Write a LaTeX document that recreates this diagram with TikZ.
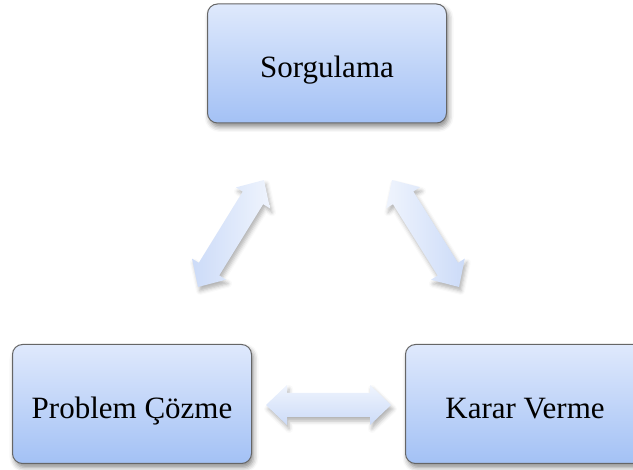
\documentclass[tikz,border=0pt]{standalone}
\usepackage{fontspec}
\setmainfont{Liberation Serif}
\usetikzlibrary{calc,shadows.blur}
\definecolor{boxtop}{HTML}{DFE9FC}
\definecolor{boxbot}{HTML}{A3C1F5}
\definecolor{boxline}{HTML}{666666}
\definecolor{arrlight}{HTML}{EFF4FD}
\definecolor{arrdark}{HTML}{CCDBF8}
\tikzset{
  stepbox/.style={rectangle, rounded corners=10pt, draw=boxline, line width=1pt,
    top color=boxtop, bottom color=boxbot, minimum width=239pt, minimum height=119pt,
    font=\fontsize{31}{36}\selectfont, text=black, text height=29pt, text depth=0pt,
    blur shadow={shadow xshift=2pt, shadow yshift=-4pt, shadow blur radius=5pt, shadow opacity=45}},
  fatarr/.style={draw=none,
    blur shadow={shadow xshift=2pt, shadow yshift=-4pt, shadow blur radius=4pt, shadow opacity=30}},
}
\newcommand\fatarrow[3]{%
  \path[fatarr,#3] let \p1=(#1), \p2=(#2), \n1={atan2(\y2-\y1,\x2-\x1)}, \n2={veclen(\x2-\x1,\y2-\y1)} in
    [shift={(\p1)}, rotate=\n1]
    (0,0) -- (21,-20) -- (21,-12) -- (\n2-21,-12) -- (\n2-21,-20) -- (\n2,0)
    -- (\n2-21,20) -- (\n2-21,12) -- (21,12) -- (21,20) -- cycle;}
\begin{document}
\begin{tikzpicture}[x=1pt,y=-1pt]
\useasboundingbox (0,0) rectangle (633,470);
\clip (0,0) rectangle (633,470);
\node[stepbox] (sor) at (327,63.5) {Sorgulama};
\node[stepbox] (pc) at (132,404) {Problem Çözme};
\node[stepbox] (kv) at (525,404) {Karar Verme};
\coordinate (l1) at (198,287);
\coordinate (l2) at (264,180);
\coordinate (r1) at (392,180);
\coordinate (r2) at (459,287);
\coordinate (h1) at (266,405);
\coordinate (h2) at (391,405);
\fatarrow{l1}{l2}{left color=arrdark, right color=arrlight}
\fatarrow{r1}{r2}{left color=arrlight, right color=arrdark}
\fatarrow{h1}{h2}{top color=arrlight, bottom color=arrdark}
\end{tikzpicture}
\end{document}
